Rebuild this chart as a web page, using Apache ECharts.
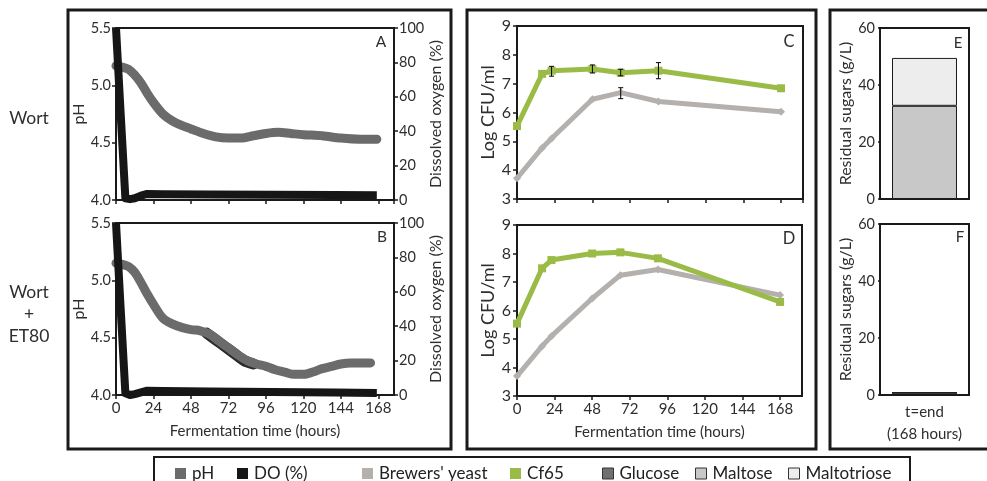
<!DOCTYPE html>
<html>
<head>
<meta charset="utf-8">
<script src="https://cdn.jsdelivr.net/npm/echarts@6/dist/echarts.min.js"></script>
<style>
  html, body { margin: 0; padding: 0; background: #fff; }
  #chart { width: 987px; height: 481px; }
</style>
</head>
<body>
<div id="chart"></div>
<script>
  // ---- data ----
  // panel A: pH and dissolved oxygen, wort
  const phTimeA = [0, 4, 8, 12, 16, 20, 24, 30, 36, 42, 48, 56, 64, 72, 80, 88, 96, 104, 112, 120, 132, 144, 156, 167];
  const phA = [5.17, 5.16, 5.14, 5.09, 5.02, 4.93, 4.85, 4.75, 4.69, 4.65, 4.62, 4.58, 4.55, 4.54, 4.54, 4.56, 4.58, 4.59, 4.58, 4.57, 4.56, 4.54, 4.53, 4.53];
  const doTimeA = [0, 3, 6, 9, 12, 16, 20, 30, 60, 100, 140, 167];
  const doA = [100, 50, 1, 0.5, 1, 2.5, 3.5, 3.4, 3.2, 3.0, 2.9, 2.8];

  // panel B: pH and dissolved oxygen, wort + ET80
  const phTimeB = [0, 4, 8, 12, 16, 20, 24, 30, 36, 42, 48, 54, 60, 66, 72, 78, 84, 90, 96, 102, 108, 114, 120, 126, 132, 138, 144, 150, 156, 163];
  const phB = [5.15, 5.14, 5.12, 5.07, 4.98, 4.88, 4.79, 4.67, 4.62, 4.59, 4.57, 4.56, 4.53, 4.47, 4.41, 4.35, 4.30, 4.27, 4.25, 4.22, 4.20, 4.18, 4.18, 4.20, 4.23, 4.25, 4.27, 4.28, 4.28, 4.28];
  const phDarkTimeB = [58, 64, 70, 76, 82, 88];
  const phDarkB = [4.54, 4.48, 4.42, 4.36, 4.30, 4.27];
  const doTimeB = [0, 3, 6, 9, 12, 16, 20, 30, 60, 100, 140, 167];
  const doB = [100, 50, 1, 0, 0.5, 1.5, 2.5, 2.3, 2.0, 1.8, 1.5, 1.2];

  // panels C and D: Log CFU/ml
  const cfuTime = [0, 16, 22, 48, 66, 90, 168];
  const brewersC = [3.72, 4.77, 5.10, 6.46, 6.69, 6.38, 6.03];
  const cf65C = [5.53, 7.34, 7.45, 7.51, 7.38, 7.45, 6.84];
  const brewersD = [3.70, 4.75, 5.10, 6.42, 7.24, 7.44, 6.54];
  const cf65D = [5.54, 7.48, 7.77, 8.00, 8.04, 7.83, 6.30];

  // panel C error bars
  const errTime = [22, 48, 66, 90, 66];
  const errLow = [7.26, 7.37, 7.27, 7.17, 6.48];
  const errHigh = [7.60, 7.65, 7.50, 7.73, 6.86];

  // panels E and F: residual sugars at t=end
  const sugarCats = ['t=end\n(168 hours)'];
  const glucoseE = [0], maltoseE = [32.7], maltotrioseE = [16.8];
  const glucoseF = [0], maltoseF = [0.8], maltotrioseF = [0];

  // ---- style ----
  const FONT = 'Lato';
  const INK = '#1a1a1a';
  const TXT = '#2e2e2e';
  const C_PH = '#6b6b6b', C_DO = '#161616', C_BREW = '#b3b0ae', C_CF = '#9bbb47';
  const C_GLU = '#707070', C_MAL = '#c8c8c8', C_MALT = '#ededed';

  const zip = (xs, ys) => xs.map((x, i) => [x, ys[i]]);

  const grids = [
    { left: 116, top: 28, width: 278, height: 172 },   // A
    { left: 116, top: 223, width: 278, height: 172 },  // B
    { left: 517, top: 26, width: 286, height: 173 },   // C
    { left: 517, top: 225, width: 285, height: 171 },  // D
    { left: 880, top: 28, width: 89, height: 171 },    // E
    { left: 880, top: 224, width: 89, height: 171 }    // F
  ].map(g => Object.assign({ show: true, borderColor: INK, borderWidth: 2 }, g));

  const line = { show: true, lineStyle: { color: INK, width: 2 } };
  const tick = { show: true, inside: false, length: 4, lineStyle: { color: INK, width: 1.5 } };

  function timeAxis(gridIndex, max, labels) {
    return {
      type: 'value', gridIndex, min: 0, max, interval: 24,
      axisLine: line, axisTick: tick, splitLine: { show: false },
      axisLabel: { show: labels, showMaxLabel: false, color: TXT, fontFamily: FONT, fontSize: 15, margin: 6 },
      name: labels ? 'Fermentation time (hours)' : '', nameLocation: 'middle', nameGap: 29,
      nameTextStyle: { color: TXT, fontFamily: FONT, fontSize: 15 }
    };
  }
  function valAxis(gridIndex, o) {
    return Object.assign({
      type: 'value', gridIndex, axisLine: line, axisTick: tick, splitLine: { show: false },
      nameLocation: 'middle',
      axisLabel: { color: TXT, fontFamily: FONT, fontSize: 14.5, margin: 5 },
      nameTextStyle: { color: TXT, fontFamily: FONT, fontSize: 16 }
    }, o);
  }
  const phLabel = { color: TXT, fontFamily: FONT, fontSize: 14.5, margin: 5, formatter: v => v.toFixed(1) };

  const xAxes = [
    timeAxis(0, 178, false),
    timeAxis(1, 178, true),
    timeAxis(2, 182, false),
    timeAxis(3, 182, true),
    { type: 'category', gridIndex: 4, data: sugarCats, axisLine: line, axisTick: { show: false }, axisLabel: { show: false } },
    { type: 'category', gridIndex: 5, data: sugarCats, axisLine: line, axisTick: { show: false },
      axisLabel: { color: TXT, fontFamily: FONT, fontSize: 15, lineHeight: 22, margin: 6 } }
  ];

  const yAxes = [
    valAxis(0, { min: 4, max: 5.5, interval: 0.5, name: 'pH', nameGap: 25, axisLabel: phLabel }),
    valAxis(0, { position: 'right', min: 0, max: 100, interval: 20, name: 'Dissolved oxygen (%)', nameGap: 33, nameRotate: 90 }),
    valAxis(1, { min: 4, max: 5.5, interval: 0.5, name: 'pH', nameGap: 25, axisLabel: phLabel }),
    valAxis(1, { position: 'right', min: 0, max: 100, interval: 20, name: 'Dissolved oxygen (%)', nameGap: 33, nameRotate: 90 }),
    valAxis(2, { min: 3, max: 9, interval: 1, name: 'Log CFU/ml', nameGap: 20, nameTextStyle: { color: TXT, fontFamily: FONT, fontSize: 18 },
      axisLabel: { color: TXT, fontFamily: FONT, fontSize: 16, margin: 6 } }),
    valAxis(3, { min: 3, max: 9, interval: 1, name: 'Log CFU/ml', nameGap: 20, nameTextStyle: { color: TXT, fontFamily: FONT, fontSize: 18 },
      axisLabel: { color: TXT, fontFamily: FONT, fontSize: 16, margin: 6 } }),
    valAxis(4, { min: 0, max: 60, interval: 20, name: 'Residual sugars (g/L)', nameGap: 22, axisTick: Object.assign({}, tick, { length: 2 }) }),
    valAxis(5, { min: 0, max: 60, interval: 20, name: 'Residual sugars (g/L)', nameGap: 22, axisTick: Object.assign({}, tick, { length: 2 }) })
  ];

  function thick(name, x, y, data, color, width, z, smooth, cap) {
    return {
      type: 'line', name, xAxisIndex: x, yAxisIndex: y, data, smooth, symbol: 'none', clip: false, z,
      itemStyle: { color }, lineStyle: { color, width, cap: cap || 'round', join: 'round' }, silent: true
    };
  }
  function cfu(name, x, y, data, color, symbol, z) {
    return {
      type: 'line', name, xAxisIndex: x, yAxisIndex: y, data, symbol, symbolSize: 8, z,
      itemStyle: { color }, lineStyle: { color, width: 5 }, silent: true
    };
  }
  function sugar(name, x, y, stack, data, color) {
    return {
      type: 'bar', name, xAxisIndex: x, yAxisIndex: y, stack, data, barWidth: '73%', silent: true,
      itemStyle: { color, borderColor: INK, borderWidth: 1 }
    };
  }

  const series = [
    thick('pH', 0, 0, zip(phTimeA, phA), C_PH, 9, 2, 0.3),
    thick('DO (%)', 0, 1, zip(doTimeA, doA), C_DO, 8, 3, false, 'butt'),
    thick('', 1, 2, zip(phDarkTimeB, phDarkB), '#2a2a2a', 11, 1, 0.3),
    thick('pH', 1, 2, zip(phTimeB, phB), C_PH, 9, 2, 0.3),
    thick('DO (%)', 1, 3, zip(doTimeB, doB), C_DO, 8, 3, false, 'butt'),
    cfu("Brewers' yeast", 2, 4, zip(cfuTime, brewersC), C_BREW, 'diamond', 2),
    cfu('Cf65', 2, 4, zip(cfuTime, cf65C), C_CF, 'rect', 3),
    cfu("Brewers' yeast", 3, 5, zip(cfuTime, brewersD), C_BREW, 'diamond', 2),
    cfu('Cf65', 3, 5, zip(cfuTime, cf65D), C_CF, 'rect', 3),
    {
      type: 'custom', xAxisIndex: 2, yAxisIndex: 4, z: 5, silent: true,
      data: errTime.map((t, i) => [t, errLow[i], errHigh[i]]),
      renderItem: function (params, api) {
        const lo = api.coord([api.value(0), api.value(1)]);
        const hi = api.coord([api.value(0), api.value(2)]);
        const st = { stroke: '#000', lineWidth: 1 };
        return {
          type: 'group',
          children: [
            { type: 'line', shape: { x1: lo[0], y1: lo[1], x2: hi[0], y2: hi[1] }, style: st },
            { type: 'line', shape: { x1: lo[0] - 2.5, y1: lo[1], x2: lo[0] + 2.5, y2: lo[1] }, style: st },
            { type: 'line', shape: { x1: hi[0] - 2.5, y1: hi[1], x2: hi[0] + 2.5, y2: hi[1] }, style: st }
          ]
        };
      }
    },
    sugar('Glucose', 4, 6, 'E', glucoseE, C_GLU),
    sugar('Maltose', 4, 6, 'E', maltoseE, C_MAL),
    sugar('Maltotriose', 4, 6, 'E', maltotrioseE, C_MALT),
    sugar('Glucose', 5, 7, 'F', glucoseF, C_GLU),
    sugar('Maltose', 5, 7, 'F', maltoseF, C_MAL),
    sugar('Maltotriose', 5, 7, 'F', maltotrioseF, C_MALT)
  ];

  // legend entries, one legend component per item so spacing matches the figure
  const legendNames = ['pH', 'DO (%)', "Brewers' yeast", 'Cf65', 'Glucose', 'Maltose', 'Maltotriose'];
  const legendColors = [C_PH, C_DO, C_BREW, C_CF, C_GLU, C_MAL, C_MALT];
  const legendBorder = [0, 0, 0, 0, 1, 1, 1];
  const legendLeft = [175, 237, 362, 510, 602, 695, 788];
  const legends = legendNames.map((n, i) => ({
    left: legendLeft[i], top: 465, padding: 0, itemWidth: 11, itemHeight: 11, itemGap: 6,
    selectedMode: false, icon: 'rect',
    textStyle: { color: '#222', fontFamily: FONT, fontSize: 17, padding: [0, 0, 0, 1] },
    data: [{ name: n, itemStyle: { color: legendColors[i], borderColor: '#333', borderWidth: legendBorder[i] } }]
  }));

  const txt = (x, y, text, size, extra) => ({
    type: 'text', x, y, silent: true,
    style: Object.assign({ text, fill: TXT, font: size + 'px ' + FONT, align: 'center', verticalAlign: 'middle' }, extra || {})
  });
  const box = (x, y, w, h, lw) => ({
    type: 'rect', silent: true, shape: { x, y, width: w, height: h },
    style: { fill: 'none', stroke: INK, lineWidth: lw }
  });

  const graphic = [
    box(68, 10, 383, 439, 3),
    box(467, 10, 349, 439, 3),
    box(830, 10, 170, 439, 3),
    box(154, 457, 756, 40, 2),
    txt(29, 118, 'Wort', 17.5),
    txt(29, 292, 'Wort', 17.5),
    txt(29, 314, '+', 17.5),
    txt(29, 336, 'ET80', 17.5),
    txt(381, 42, 'A', 15.5),
    txt(382, 237, 'B', 15.5),
    txt(789, 42, 'C', 16.5),
    txt(789, 239, 'D', 16.5),
    txt(958, 43, 'E', 15),
    txt(960, 237, 'F', 15)
  ];

  const chart = echarts.init(document.getElementById('chart'), null, { renderer: 'canvas' });
  chart.setOption({
    animation: false,
    backgroundColor: '#fff',
    grid: grids,
    xAxis: xAxes,
    yAxis: yAxes,
    legend: legends,
    series: series,
    graphic: graphic
  });
</script>
</body>
</html>
